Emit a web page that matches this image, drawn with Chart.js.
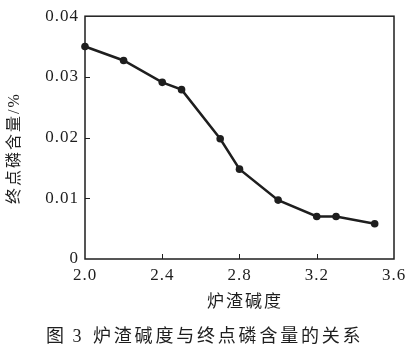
<!DOCTYPE html>
<html>
<head>
<meta charset="utf-8">
<script src="https://cdn.jsdelivr.net/npm/chart.js@4"></script>
<style>
html,body{margin:0;padding:0;background:#fff;}
#wrap{width:414px;height:357px;}
</style>
</head>
<body>
<div id="wrap"><canvas id="c" width="414" height="357"></canvas></div>
<script>
// Data
const basicity = [2.0, 2.2, 2.4, 2.5, 2.7, 2.8, 3.0, 3.2, 3.3, 3.5];
const phosphorus = [0.035, 0.0327, 0.0291, 0.0279, 0.0198, 0.0148, 0.0097, 0.0070, 0.0070, 0.0058];
const xTickValues = [2.0, 2.4, 2.8, 3.2, 3.6];
const xTickLabels = ['2.0', '2.4', '2.8', '3.2', '3.6'];
const yTickValues = [0, 0.01, 0.02, 0.03, 0.04];
const yTickLabels = ['0', '0.01', '0.02', '0.03', '0.04'];
const xTitle = '炉渣碱度';
const yTitle = '终点磷含量/%';
const captionPrefix = '图 3';
const captionText = '炉渣碱度与终点磷含量的关系';

const INK = '#1e1e1e';
const SERIF = "'Liberation Serif', 'Noto Sans CJK SC', serif";

const points = basicity.map((x, i) => ({ x: x, y: phosphorus[i] }));

const decor = {
  id: 'decor',
  beforeDraw(chart) {
    chart.ctx.letterSpacing = '1px';
  },
  afterDatasetsDraw(chart) {
    const ctx = chart.ctx;
    const a = chart.chartArea;
    const xs = chart.scales.x, ys = chart.scales.y;
    ctx.save();
    ctx.strokeStyle = INK;
    ctx.lineWidth = 1.5;
    ctx.strokeRect(a.left, a.top, a.right - a.left, a.bottom - a.top);
    ctx.lineWidth = 1;
    ctx.beginPath();
    xTickValues.forEach(v => {
      const px = Math.round(xs.getPixelForValue(v)) + 0.5;
      if (px > a.left + 2 && px < a.right - 2) {
        ctx.moveTo(px, a.bottom);
        ctx.lineTo(px, a.bottom - 5);
      }
    });
    yTickValues.forEach(v => {
      const py = Math.round(ys.getPixelForValue(v)) + 0.5;
      if (py > a.top + 2 && py < a.bottom - 2) {
        ctx.moveTo(a.left, py);
        ctx.lineTo(a.left + 5, py);
      }
    });
    ctx.stroke();
    ctx.restore();
  },
  afterDraw(chart) {
    const ctx = chart.ctx;
    const a = chart.chartArea;
    ctx.save();
    ctx.fillStyle = INK;
    ctx.textBaseline = 'middle';
    // x axis title
    ctx.letterSpacing = '2px';
    ctx.font = '17px ' + SERIF;
    ctx.textAlign = 'left';
    ctx.fillText(xTitle, 207, a.bottom + 44);
    // caption
    ctx.font = '18px ' + SERIF;
    ctx.letterSpacing = '2px';
    ctx.fillText(captionPrefix, 46, 337);
    ctx.letterSpacing = '2.8px';
    ctx.fillText(captionText, 93, 337);
    // y axis title
    ctx.font = '16px ' + SERIF;
    ctx.letterSpacing = '2px';
    ctx.translate(15, 148);
    ctx.rotate(-Math.PI / 2);
    ctx.textAlign = 'center';
    ctx.fillText(yTitle, 0, 0);
    ctx.restore();
  }
};

new Chart(document.getElementById('c'), {
  type: 'scatter',
  data: {
    datasets: [{
      data: points,
      showLine: true,
      borderColor: INK,
      backgroundColor: INK,
      borderWidth: 2.5,
      pointRadius: 3.8,
      pointHoverRadius: 3.8,
      pointBackgroundColor: INK,
      pointBorderWidth: 0,
      clip: false,
      tension: 0
    }]
  },
  options: {
    responsive: false,
    animation: false,
    devicePixelRatio: 1,
    layout: { padding: { left: 0, right: 20, top: 16, bottom: 0 } },
    plugins: { legend: { display: false }, tooltip: { enabled: false } },
    scales: {
      x: {
        type: 'linear',
        min: 2.0, max: 3.6,
        afterBuildTicks(s) { s.ticks = xTickValues.map(v => ({ value: v })); },
        afterFit(s) { s.height = 98; },
        grid: { display: false, drawTicks: false },
        border: { display: false },
        ticks: {
          padding: 6,
          color: INK,
          font: { family: SERIF, size: 17 },
          maxRotation: 0,
          autoSkip: false,
          callback(v, i) { return xTickLabels[i]; }
        }
      },
      y: {
        type: 'linear',
        min: 0, max: 0.04,
        afterBuildTicks(s) { s.ticks = yTickValues.map(v => ({ value: v })); },
        afterFit(s) { s.width = 85; },
        grid: { display: false, drawTicks: false },
        border: { display: false },
        ticks: {
          padding: 6,
          color: INK,
          font: { family: SERIF, size: 17 },
          autoSkip: false,
          callback(v, i) { return yTickLabels[i]; }
        }
      }
    }
  },
  plugins: [decor]
});
</script>
</body>
</html>
